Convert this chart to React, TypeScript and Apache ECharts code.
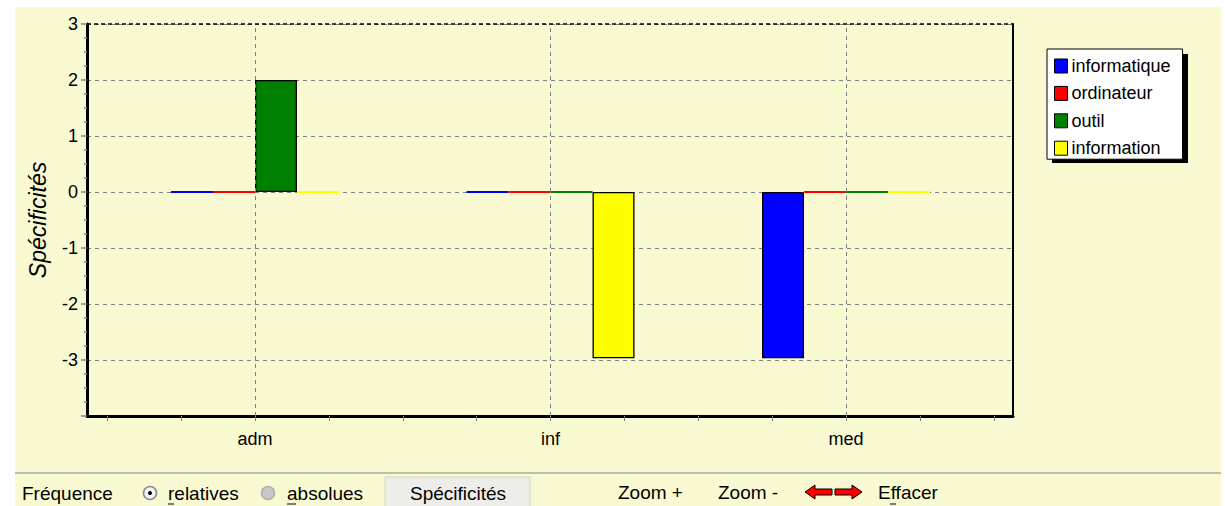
import React, { useEffect, useRef } from "react";
import * as echarts from "echarts";

const categories = ["adm", "inf", "med"];
const seriesNames = ["informatique", "ordinateur", "outil", "information"];
const seriesColors = ["#0000FF", "#FF0000", "#008000", "#FFFF00"];
const informatique = [0, 0, -2.97];
const ordinateur = [0, 0, 0];
const outil = [2, 0, 0];
const information = [0, -2.97, 0];
const yTicks = [-4, -3, -2, -1, 0, 1, 2, 3];
const xTickPositions = [0.5, 0.75, 1, 1.25, 1.5, 1.75, 2, 2.25, 2.5, 2.75, 3, 3.25, 3.5];
const categoryPositions = [1, 2, 3];

const FONT = "'Liberation Sans', Arial, sans-serif";
const BG = "#FAFAD2";

export default function App() {
  const ref = useRef<HTMLDivElement>(null);
  useEffect(() => {
    if (!ref.current) return;
    const chart = echarts.init(ref.current, null, { renderer: "svg" });
    const values = [informatique, ordinateur, outil, information];
    const series: any[] = values.map((vals, si) => ({
      type: "bar",
      name: seriesNames[si],
      barWidth: 42,
      barGap: "0%",
      itemStyle: { color: seriesColors[si], borderColor: "#000", borderWidth: 1.3 },
      data: vals.map((v, i) =>
        v === 0
          ? { value: [categoryPositions[i], v], itemStyle: { borderColor: seriesColors[si], borderWidth: 1.8 } }
          : { value: [categoryPositions[i], v] }
      ),
      z: 3,
    }));
    series.push({
      type: "line",
      name: "_grid",
      data: [],
      silent: true,
      z: 1,
      markLine: {
        silent: true,
        symbol: "none",
        animation: false,
        label: { show: false },
        lineStyle: { color: "#808080", type: [4, 4], width: 1 },
        data: [
          ...categoryPositions.map((p) => ({ xAxis: p })),
          { yAxis: yTicks[yTicks.length - 1], lineStyle: { color: "#000", type: [4, 3], width: 1.5 } },
        ],
      },
    });

    const graphics: any[] = [
      { type: "rect", shape: { x: 15, y: 7, width: 1206, height: 499 }, style: { fill: BG }, z: -10, silent: true },
      { type: "rect", shape: { x: 1052, y: 54, width: 136, height: 109 }, style: { fill: "#000" }, z: 1 },
      { type: "line", shape: { x1: 15, y1: 473, x2: 1221, y2: 473 }, style: { stroke: "#BEBEAA", lineWidth: 2 } },
      { type: "text", x: 22, y: 493, style: { text: "Fréquence", font: `19px ${FONT}`, fill: "#000", verticalAlign: "middle" } },
      { type: "circle", shape: { cx: 150, cy: 493, r: 6.5 }, style: { fill: "#F4F4F4", stroke: "#8A8A8A", lineWidth: 1.5 } },
      { type: "circle", shape: { cx: 150, cy: 493, r: 2 }, style: { fill: "#000" } },
      { type: "text", x: 168, y: 493, style: { text: "relatives", font: `19px ${FONT}`, fill: "#000", verticalAlign: "middle" } },
      { type: "line", shape: { x1: 168, y1: 504, x2: 174, y2: 504 }, style: { stroke: "#000", lineWidth: 1 } },
      { type: "circle", shape: { cx: 268, cy: 493, r: 6.5 }, style: { fill: "#C8C8C8", stroke: "#B0B0B0", lineWidth: 1.5 } },
      { type: "text", x: 287, y: 493, style: { text: "absolues", font: `19px ${FONT}`, fill: "#000", verticalAlign: "middle" } },
      { type: "line", shape: { x1: 287, y1: 504, x2: 296, y2: 504 }, style: { stroke: "#000", lineWidth: 1 } },
      { type: "rect", shape: { x: 385, y: 477, width: 145, height: 32 }, style: { fill: "#EDEDE9", stroke: "#D4D4D0", lineWidth: 1 } },
      { type: "text", x: 458, y: 493, style: { text: "Spécificités", font: `19px ${FONT}`, fill: "#000", align: "center", verticalAlign: "middle" } },
      { type: "text", x: 618, y: 492, style: { text: "Zoom +", font: `19px ${FONT}`, fill: "#000", verticalAlign: "middle" } },
      { type: "text", x: 718, y: 492, style: { text: "Zoom -", font: `19px ${FONT}`, fill: "#000", verticalAlign: "middle" } },
      {
        type: "polygon",
        shape: { points: [[805, 492], [815, 485], [815, 489], [832, 489], [832, 495], [815, 495], [815, 499]] },
        style: { fill: "#FF0000", stroke: "#000", lineWidth: 1 },
      },
      {
        type: "polygon",
        shape: { points: [[862, 492], [852, 485], [852, 489], [835, 489], [835, 495], [852, 495], [852, 499]] },
        style: { fill: "#FF0000", stroke: "#000", lineWidth: 1 },
      },
      { type: "text", x: 878, y: 492, style: { text: "Effacer", font: `19px ${FONT}`, fill: "#000", verticalAlign: "middle" } },
      { type: "line", shape: { x1: 890, y1: 504, x2: 896, y2: 504 }, style: { stroke: "#000", lineWidth: 1 } },
    ];

    chart.setOption({
      animation: false,
      backgroundColor: "#FFFFFF",
      textStyle: { fontFamily: FONT },
      grid: { left: 87, top: 24, width: 926, height: 392, show: false },
      legend: {
        orient: "vertical",
        left: 1047,
        top: 49,
        z: 5,
        backgroundColor: "#FFFFFF",
        borderColor: "#000",
        borderWidth: 1,
        borderRadius: 0,
        padding: [8, 12, 2, 7],
        itemWidth: 13,
        itemHeight: 14,
        itemGap: 9.4,
        icon: "rect",
        selectedMode: false,
        textStyle: { fontSize: 18, color: "#000", fontFamily: FONT, padding: [0, 0, 0, -1] },
        itemStyle: { borderColor: "#000", borderWidth: 1 },
        data: seriesNames,
      },
      xAxis: {
        type: "value",
        min: 0.4315,
        max: 3.565,
        axisLine: { show: true, onZero: false, lineStyle: { color: "#000", width: 3 } },
        axisTick: { show: true, length: 5, customValues: xTickPositions, lineStyle: { color: "#808080", width: 1 } },
        axisLabel: {
          show: true,
          customValues: categoryPositions,
          formatter: (v: number) => categories[Math.round(v) - 1] ?? "",
          fontSize: 18,
          color: "#000",
          margin: 14,
        },
        splitLine: { show: false },
      },
      yAxis: [
        {
          type: "value",
          min: yTicks[0],
          max: yTicks[yTicks.length - 1],
          interval: 1,
          name: "Spécificités",
          nameLocation: "middle",
          nameGap: 38,
          nameRotate: 90,
          nameTextStyle: { fontSize: 23, fontStyle: "italic", color: "#000", fontFamily: FONT },
          axisLine: { show: true, lineStyle: { color: "#000", width: 3 } },
          axisTick: { show: true, length: 6, lineStyle: { color: "#808080", width: 1.5 } },
          minorTick: { show: true, splitNumber: 4, length: 3, lineStyle: { color: "#909090", width: 1.5 } },
          axisLabel: {
            fontSize: 18,
            color: "#000",
            margin: 9,
            formatter: (v: number) => (v === yTicks[0] ? "" : String(v)),
          },
          splitLine: { show: true, lineStyle: { color: "#808080", type: [4, 4], width: 1 } },
        },
        {
          type: "value",
          position: "right",
          min: yTicks[0],
          max: yTicks[yTicks.length - 1],
          interval: 1,
          axisLine: { show: true, lineStyle: { color: "#000", width: 2 } },
          axisTick: { show: false },
          axisLabel: { show: false },
          splitLine: { show: false },
        },
      ],
      graphic: graphics,
      series,
    });
    return () => chart.dispose();
  }, []);
  return <div ref={ref} style={{ position: "fixed", left: 0, top: 0, width: 1225, height: 506 }} />;
}
